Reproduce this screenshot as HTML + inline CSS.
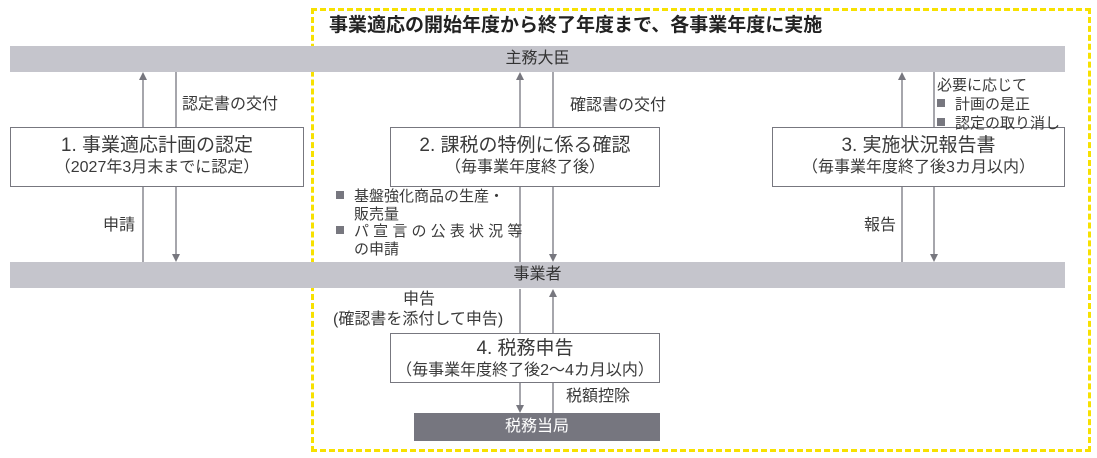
<!DOCTYPE html>
<html><head><meta charset="utf-8"><style>
body{margin:0;width:1097px;height:458px;background:#fff;position:relative;overflow:hidden;font-family:"Liberation Sans","Noto Sans CJK JP",sans-serif;color:#3a3a3a;}
.a{position:absolute;}
.bar{position:absolute;left:10px;width:1055px;height:26px;background:#c5c5cc;text-align:center;line-height:26px;font-size:16px;color:#333;}
.box{position:absolute;border:1px solid #77777f;background:#fff;text-align:center;box-sizing:border-box;white-space:nowrap;}
.box .t{font-size:19px;line-height:23px;margin-top:6px;}
.box .s{font-size:16px;line-height:21px;}
.l{font-size:16px;line-height:19px;white-space:nowrap;}
.sq{display:inline-block;width:8px;height:8px;background:#77777f;margin-right:10px;vertical-align:2px;}
</style></head><body>
<div class="a" style="left:311px;top:8px;width:774px;height:438px;border:3px dashed #f7e100;"></div>
<div class="a" style="left:329px;top:10px;font-size:19px;font-weight:bold;color:#222;white-space:nowrap;">事業適応の開始年度から終了年度まで、各事業年度に実施</div>
<div class="bar" style="top:46px;">主務大臣</div>
<div class="bar" style="top:262px;">事業者</div>
<svg class="a" style="left:0;top:0" width="1097" height="458">
<defs>
<marker id="u" markerWidth="8" markerHeight="8" refX="4" refY="4" orient="auto-start-reverse" markerUnits="userSpaceOnUse" viewBox="0 0 8 8"><path d="M0,0 L8,4 L0,8 z" fill="#77777f"/></marker></defs>
<g stroke="#77777f" stroke-width="1.3" fill="none">
<line x1="143" y1="262" x2="143" y2="76" marker-end="url(#u)"/>
<line x1="176" y1="72" x2="176" y2="258" marker-end="url(#u)"/>
<line x1="520" y1="262" x2="520" y2="76" marker-end="url(#u)"/>
<line x1="553" y1="72" x2="553" y2="258" marker-end="url(#u)"/>
<line x1="902" y1="262" x2="902" y2="76" marker-end="url(#u)"/>
<line x1="934" y1="72" x2="934" y2="258" marker-end="url(#u)"/>
<line x1="520" y1="289" x2="520" y2="409" marker-end="url(#u)"/>
<line x1="553" y1="413" x2="553" y2="293" marker-end="url(#u)"/>
</g></svg>
<div class="box" style="left:10px;top:127px;width:294px;height:60px;"><div class="t">1. 事業適応計画の認定</div><div class="s">（2027年3月末までに認定）</div></div>
<div class="box" style="left:390px;top:127px;width:270px;height:60px;"><div class="t">2. 課税の特例に係る確認</div><div class="s">（毎事業年度終了後）</div></div>
<div class="box" style="left:772px;top:127px;width:293px;height:60px;"><div class="t">3. 実施状況報告書</div><div class="s">（毎事業年度終了後3カ月以内）</div></div>
<div class="box" style="left:390px;top:333px;width:270px;height:50px;"><div class="t" style="margin-top:3px">4. 税務申告</div><div class="s">（毎事業年度終了後2～4カ月以内）</div></div>
<div class="a" style="left:414px;top:413px;width:246px;height:28px;background:#76767f;color:#fff;text-align:center;line-height:28px;font-size:16px;">税務当局</div>
<div class="a l" style="left:182px;top:95px;">認定書の交付</div>
<div class="a l" style="left:103px;top:216px;">申請</div>
<div class="a l" style="left:570px;top:96px;">確認書の交付</div>
<div class="a l" style="left:864px;top:216px;">報告</div>
<div class="a l" style="left:336px;top:188px;line-height:17.5px;font-size:15px;"><span class="sq"></span>基盤強化商品の生産・<br><span style="padding-left:18px">販売量</span><br><span class="sq"></span>パ 宣 言 の 公 表 状 況 等<br><span style="padding-left:18px">の申請</span></div>
<div class="a l" style="left:937px;top:76px;line-height:19px;font-size:15px;">必要に応じて<br><span class="sq"></span>計画の是正<br><span class="sq"></span>認定の取り消し</div>
<div class="a l" style="left:403px;top:290px;">申告</div>
<div class="a l" style="left:333px;top:310px;">(確認書を添付して申告)</div>
<div class="a l" style="left:566px;top:387px;">税額控除</div>
</body></html>
